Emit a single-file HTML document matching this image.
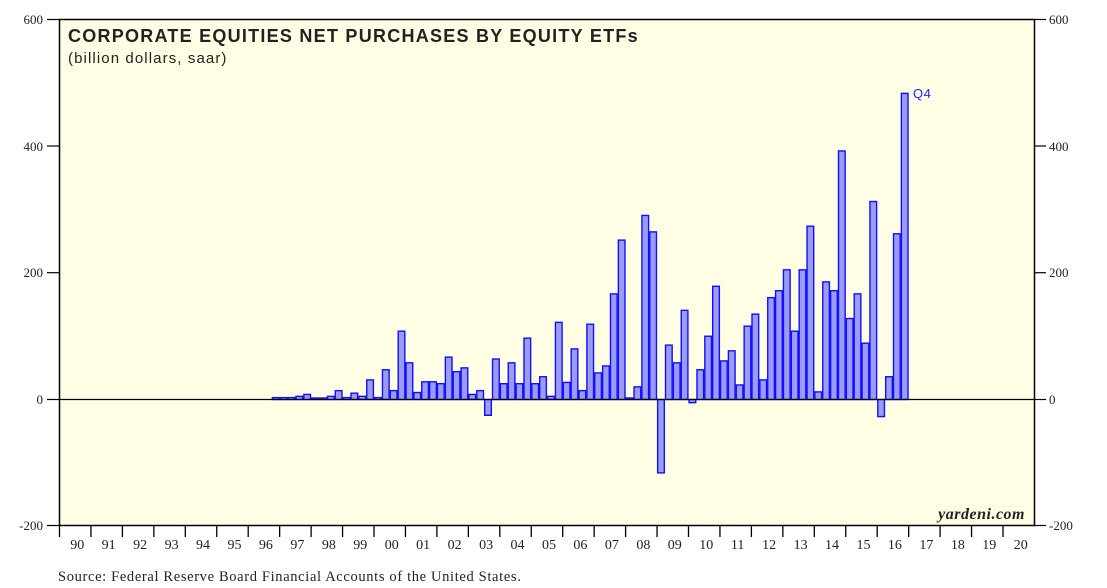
<!DOCTYPE html>
<html><head><meta charset="utf-8"><style>
html,body{margin:0;padding:0;background:#fff;}
svg{display:block;}
</style></head><body>
<svg id="c" width="1107" height="588" xmlns="http://www.w3.org/2000/svg">
<rect x="59.5" y="19.5" width="975" height="506" fill="#fffde3"/>
<g id="bars"></g>
<line x1="59.5" y1="399.5" x2="1034.5" y2="399.5" stroke="#000" stroke-width="1.2"/>
<rect x="59.5" y="19.5" width="975" height="506" fill="none" stroke="#000" stroke-width="1.5"/>
<g stroke="#000" stroke-width="1.2">
<line x1="47" y1="19.5" x2="59.5" y2="19.5"/><line x1="1034.5" y1="19.5" x2="1046" y2="19.5"/>
<line x1="47" y1="146" x2="59.5" y2="146"/><line x1="1034.5" y1="146" x2="1046" y2="146"/>
<line x1="47" y1="272.7" x2="59.5" y2="272.7"/><line x1="1034.5" y1="272.7" x2="1046" y2="272.7"/>
<line x1="47" y1="399.5" x2="59.5" y2="399.5"/><line x1="1034.5" y1="399.5" x2="1046" y2="399.5"/>
<line x1="47" y1="525.5" x2="59.5" y2="525.5"/><line x1="1034.5" y1="525.5" x2="1046" y2="525.5"/>
</g>
<g id="xt"></g>
<g font-family="Liberation Serif, serif" font-size="13" fill="#222">
<text x="43" y="24" text-anchor="end">600</text><text x="1049" y="24">600</text>
<text x="43" y="151" text-anchor="end">400</text><text x="1049" y="151">400</text>
<text x="43" y="277" text-anchor="end">200</text><text x="1049" y="277">200</text>
<text x="43" y="404" text-anchor="end">0</text><text x="1049" y="404">0</text>
<text x="43" y="530" text-anchor="end">-200</text><text x="1049" y="530">-200</text>
<text x="58" y="581" font-size="14.5" letter-spacing="0.65">Source: Federal Reserve Board Financial Accounts of the United States.</text>
<text x="1025" y="519" text-anchor="end" font-style="italic" font-weight="bold" font-size="16" letter-spacing="0.5">yardeni.com</text>
</g>
<text x="68" y="42" font-family="Liberation Sans, sans-serif" font-weight="bold" font-size="18" letter-spacing="1.25" fill="#222">CORPORATE EQUITIES NET PURCHASES BY EQUITY ETFs</text>
<text x="68" y="63" font-family="Liberation Sans, sans-serif" font-size="15" letter-spacing="1.1" fill="#222">(billion dollars, saar)</text>
<text x="913" y="98" font-family="Liberation Sans, sans-serif" font-size="13" letter-spacing="0.5" fill="#2020ff">Q4</text>
</svg>
<script>
var v=[3,3,3,5,8,2,2,5,14,3,10,5,31,3,47,14,108,58,11,28,28,25,67,44,50,8,14,-25,64,25,58,25,97,25,36,5,122,27,80,14,119,
42,53,167,252,0,20,291,265,-116,86,58,141,-5,47,100,179,61,77,23,116,135,31,161,172,205,108,205,274,12,186,172,393,128,167,89,313,-27,36,262,484];
var g=document.getElementById("bars"),yw=31.45,qw=yw/4,x0=59.5+6*yw+3*qw,z=399.5,k=0.6325,h="";
v.forEach(function(d,i){var x=x0+i*qw,t=d>=0?z-d*k:z,hh=Math.abs(d)*k;if(hh<1.5){hh=1.5;t=z-1.5;}
h+='<rect x="'+(x+0.6).toFixed(2)+'" y="'+t.toFixed(2)+'" width="'+(qw-1.2).toFixed(2)+'" height="'+hh.toFixed(2)+'" fill="#9c9cf8" stroke="#1010ff" stroke-width="1.4"/>';});
g.innerHTML=h;
var xt=document.getElementById("xt"),s="";
for(var i=0;i<31;i++){var x=59.5+i*yw;s+='<line x1="'+x+'" y1="525.5" x2="'+x+'" y2="537" stroke="#000" stroke-width="1.3"/>';
var yr=(90+i)%100;s+='<text x="'+(x+yw/2+2)+'" y="549" text-anchor="middle" font-family="Liberation Serif, serif" font-size="14" fill="#222">'+(yr<10?"0"+yr:yr)+'</text>';}
xt.innerHTML=s;
</script>
</body></html>
